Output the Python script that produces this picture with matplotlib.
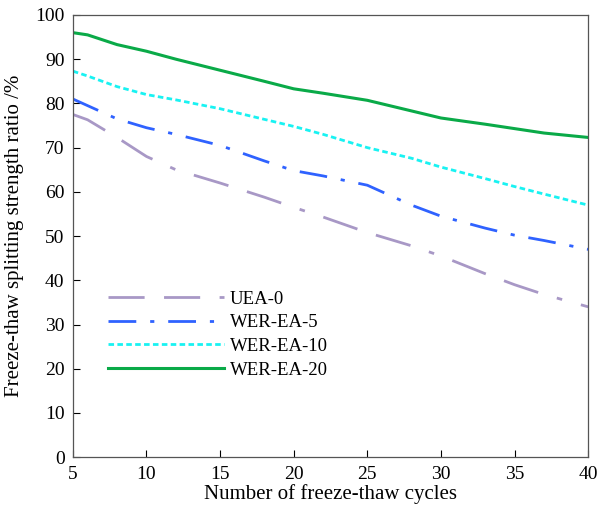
import matplotlib
matplotlib.use('Agg')
from matplotlib import pyplot as plt

# Freeze-thaw splitting strength ratio (%)
cycles = [5, 6, 8, 10, 12, 15, 18, 20, 22, 25, 28, 30, 33, 35, 37, 40]
uea_0 = [77.5, 76.3, 72.3, 68.0, 65.0, 62.0, 58.8, 56.5, 54.3, 50.8, 47.8, 45.5, 41.5, 39.0, 36.8, 34.0]
wer_ea_5 = [81.0, 79.5, 76.5, 74.5, 73.0, 70.5, 67.0, 64.8, 63.6, 61.5, 57.0, 54.5, 51.8, 50.2, 49.0, 47.0]
wer_ea_10 = [87.3, 86.2, 83.8, 82.0, 80.8, 78.8, 76.4, 74.8, 73.0, 70.0, 67.6, 65.6, 63.0, 61.2, 59.5, 57.0]
wer_ea_20 = [96.0, 95.5, 93.3, 91.8, 90.0, 87.5, 85.0, 83.3, 82.3, 80.7, 78.3, 76.7, 75.3, 74.3, 73.3, 72.3]

plt.rcParams['font.family'] = ['Liberation Serif', 'DejaVu Serif']
plt.rcParams['font.size'] = 14

fig = plt.figure(figsize=(6.07, 5.16), dpi=100)
ax = fig.add_axes([0.120, 0.114, 0.849, 0.857])

ax.plot(cycles, uea_0, color='#A898C6', lw=2.0, dashes=(13, 7, 13, 7, 2, 7), label='UEA-0')
ax.plot(cycles, wer_ea_5, color='#2F62FF', lw=2.0, dashes=(10, 5, 1.5, 5), label='WER-EA-5')
ax.plot(cycles, wer_ea_10, color='#19F2F2', lw=2.0, dashes=(2, 1.2), label='WER-EA-10')
ax.plot(cycles, wer_ea_20, color='#0AAA48', lw=2.2, label='WER-EA-20')

ax.set_xlim(5, 40)
ax.set_ylim(0, 100)
ax.set_xticks(range(5, 41, 5))
ax.set_yticks(range(0, 101, 10))
ax.tick_params(direction='in', length=5, width=0.8, labelsize=14, pad=6)
for s in ax.spines.values():
    s.set_linewidth(0.9)
    s.set_color('#555555')

ax.set_xlabel('Number of freeze-thaw cycles', fontsize=15, labelpad=1)
ax.set_ylabel('Freeze-thaw splitting strength ratio /%', fontsize=15, labelpad=8)

ax.legend(loc='upper left', bbox_to_anchor=(0.035, 0.415), frameon=False,
          handlelength=6.2, handletextpad=0.3, labelspacing=0.35, fontsize=13.5)

fig.savefig('out.png', dpi=100)
